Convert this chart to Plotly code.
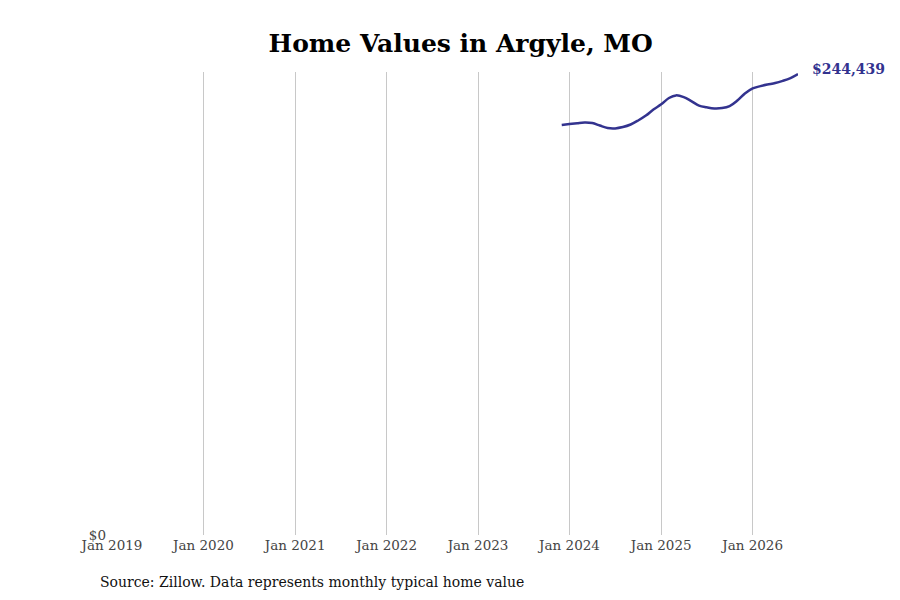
import plotly.graph_objs as go
import pandas as pd

TITLE = "Home Values in Argyle, MO"
SOURCE = "Source: Zillow. Data represents monthly typical home value"
LINE_COLOR = "#33338f"

# monthly typical home value, Dec 2023 .. Jul 2026
months = pd.date_range("2023-12-01", "2026-07-01", freq="MS")
values = [217400, 217900, 218350, 218700, 218450, 217100, 215800, 215600,
          216300, 217650, 219800, 222400, 225600, 228350, 231700, 233100,
          232200, 230100, 227700, 226800, 226200, 226400, 227450, 230400,
          234100, 236800, 238000, 238850, 239650, 240800, 242300, 244439]

tick_vals = pd.date_range("2019-01-01", "2026-01-01", freq="YS")
tick_text = [d.strftime("Jan %Y") for d in tick_vals]

fig = go.Figure()
fig.add_trace(go.Scatter(x=months, y=values, mode="lines",
                         line=dict(color=LINE_COLOR, width=2.5, shape="spline"),
                         showlegend=False))

# end label
fig.add_annotation(x=months[-1], y=values[-1], text=f"<b>${values[-1]:,}</b>",
                   showarrow=False, xanchor="left", xshift=12, yshift=5,
                   font=dict(family="DejaVu Serif", size=14, color=LINE_COLOR))

fig.add_annotation(x=0, y=-0.1015, xref="paper", yref="paper", text=SOURCE,
                   showarrow=False, xanchor="left", yanchor="middle", xshift=-14,
                   font=dict(family="DejaVu Serif", size=14, color="#111111"))

fig.update_layout(
    width=900, height=600,
    paper_bgcolor="white", plot_bgcolor="white",
    margin=dict(l=104, r=110, t=64, b=73),
    title=dict(text=f"<b>{TITLE}</b>", x=0.503, xanchor="center",
               y=0.942, yanchor="middle",
               font=dict(family="DejaVu Serif", size=25, color="black")),
    font=dict(family="DejaVu Serif", size=13.5, color="#444444"),
    xaxis=dict(range=[pd.Timestamp("2019-01-01"), months[-1]],
               tickvals=tick_vals, ticktext=tick_text,
               showgrid=True, gridcolor="#c8c8c8", gridwidth=1,
               zeroline=False, showline=False, ticks=""),
    yaxis=dict(range=[0, 245500], tickvals=[0], ticktext=["$0"],
               ticklabelstandoff=5,
               showgrid=False, zeroline=False, showline=False, ticks=""),
)

fig.write_html("out.html")
